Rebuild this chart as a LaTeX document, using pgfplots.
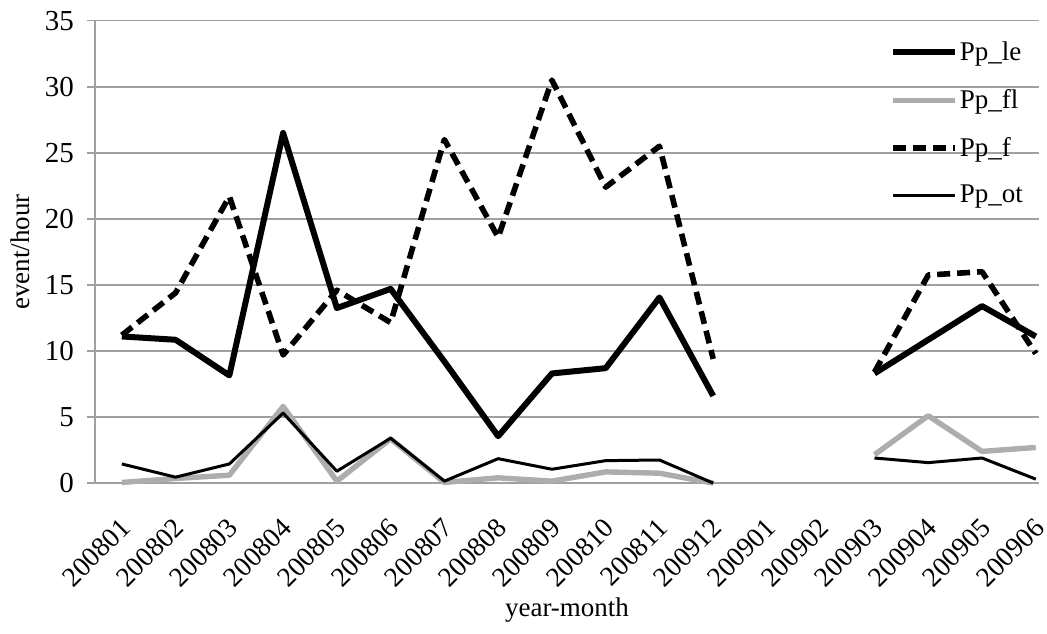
\documentclass[border=0pt]{standalone}
\usepackage{fontspec}
\setmainfont{Liberation Serif}
\usepackage{pgfplots}
\pgfplotsset{compat=1.18}
\usepackage{pgfplotstable}
\pgfplotstableread{
x le fl f ot
0 11.1 0.05 11.2 1.45
1 10.85 0.35 14.4 0.45
2 8.15 0.6 21.7 1.45
3 26.5 5.8 9.7 5.3
4 13.25 0.15 14.6 0.9
5 14.7 3.35 12.15 3.4
6 9.2 0.05 26.0 0.15
7 3.55 0.4 18.6 1.85
8 8.3 0.15 30.5 1.05
9 8.7 0.85 22.4 1.7
10 14.05 0.75 25.5 1.75
11 6.6 0.0 9.4 0.0
12 nan nan nan nan
13 nan nan nan nan
14 8.3 2.15 8.4 1.9
15 10.85 5.1 15.75 1.55
16 13.4 2.4 16.0 1.9
17 11.1 2.7 9.8 0.3
}\data
\definecolor{gridgray}{RGB}{160,160,160}
\begin{document}
\begin{tikzpicture}
\begin{axis}[
  scale only axis,
  width=472.3pt, height=231.35pt,
  xmin=-0.5, xmax=17.06,
  ymin=0, ymax=35,
  clip=false,
  unbounded coords=jump,
  axis x line*=bottom, axis y line*=left,
  axis line style={gridgray, line width=0.8pt, -},
  ytick={0,5,...,35},
  ymajorgrids,
  major grid style={gridgray, line width=0.8pt},
  ytick style={gridgray, line width=0.8pt},
  tick align=outside,
  major tick length=4pt,
  xtick={0,...,17},
  xticklabels={200801,200802,200803,200804,200805,200806,200807,200808,200809,200810,200811,200912,200901,200902,200903,200904,200905,200906},
  x tick style={draw=none},
  minor xtick={-0.5,0.5,...,16.5},
  minor x tick style={gridgray, line width=0.8pt},
  minor tick length=5pt,
  /pgf/number format/assume math mode=true,
  tick label style={font=\fontsize{14.5}{17}\selectfont},
  yticklabel style={xshift=-3pt},
  xticklabel style={font=\fontsize{13.8}{17}\selectfont, xshift=-1.5pt, yshift=-12.5pt, rotate=45, anchor=north east, inner sep=0pt},
  xlabel={year-month},
  ylabel={event/hour},
  label style={font=\fontsize{13.5}{16}\selectfont},
  xlabel style={at={(rel axis cs:0.5,0)}, anchor=center, yshift=-63.5pt},
  ylabel style={at={(rel axis cs:0,0.5)}, anchor=center, yshift=37.5pt},
  legend image code/.code={\draw[#1] (0pt,0pt) -- (31pt,0pt);},
  legend style={draw=none, fill=none, at={(rel axis cs:0.8416,0.96)}, anchor=north west,
    font=\fontsize{13.5}{16}\selectfont, row sep=11pt, inner sep=0pt,
    nodes={inner sep=1pt}},
  legend cell align=left,
]
\addplot[black, line width=3pt, line join=round] table[x=x,y=le] {\data};
\addlegendentry{Pp\_le}
\addplot[black!32, line width=2.7pt, line join=round] table[x=x,y=fl] {\data};
\addlegendentry{Pp\_fl}
\addplot[black, line width=2.8pt, dash pattern=on 6.5pt off 3.5pt, line join=round] table[x=x,y=f] {\data};
\addlegendentry{Pp\_f}
\addplot[black, line width=1.5pt, line join=round] table[x=x,y=ot] {\data};
\addlegendentry{Pp\_ot}
\coordinate (SW) at (rel axis cs:0,0);
\coordinate (NE) at (rel axis cs:1,1);
\end{axis}
\pgfresetboundingbox
\path ([xshift=-47.5pt,yshift=-75.3pt]SW) rectangle ([xshift=4pt,yshift=10.35pt]NE);
\end{tikzpicture}
\end{document}
